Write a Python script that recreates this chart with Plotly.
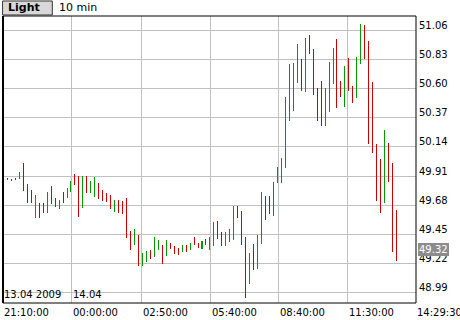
import plotly.graph_objects as go

# ---- data ----
highs = [49.947, 49.892, 49.886, 49.892, 49.939, 50.010, 49.847, 49.797, 49.758, 49.695,
         49.695, 49.781, 49.829, 49.734, 49.718, 49.781, 49.813, 49.868, 49.923, 49.908,
         49.908, 49.908, 49.868, 49.900, 49.852, 49.797, 49.773, 49.758, 49.718, 49.718,
         49.710, 49.734, 49.474, 49.489, 49.442, 49.300, 49.316, 49.324, 49.426, 49.402,
         49.363, 49.402, 49.379, 49.355, 49.339, 49.363, 49.363, 49.379, 49.426, 49.379,
         49.395, 49.410, 49.426, 49.545, 49.552, 49.466, 49.466, 49.489, 49.671, 49.671,
         49.631, 49.426, 49.300, 49.371, 49.442, 49.781, 49.750, 49.750, 49.860, 49.979,
         50.050, 50.531, 50.792, 50.800, 50.957, 50.831, 50.997, 51.028, 50.910, 50.602,
         50.665, 50.602, 50.815, 50.918, 50.989, 50.665, 50.776, 50.839, 50.618, 50.847,
         51.115, 51.100, 50.981, 50.657, 50.160, 50.042, 50.271, 50.168, 50.010, 49.639]
lows = [49.884, 49.876, 49.876, 49.876, 49.884, 49.789, 49.695, 49.695, 49.576, 49.576,
        49.616, 49.616, 49.687, 49.663, 49.647, 49.695, 49.734, 49.781, 49.839, 49.584,
        49.655, 49.773, 49.773, 49.742, 49.726, 49.710, 49.702, 49.647, 49.624, 49.616,
        49.608, 49.418, 49.324, 49.363, 49.197, 49.197, 49.229, 49.253, 49.268, 49.324,
        49.213, 49.276, 49.331, 49.292, 49.284, 49.308, 49.308, 49.324, 49.363, 49.339,
        49.331, 49.363, 49.324, 49.355, 49.410, 49.355, 49.355, 49.387, 49.402, 49.576,
        49.363, 48.945, 49.055, 49.166, 49.174, 49.371, 49.560, 49.608, 49.592, 49.852,
        49.852, 49.971, 50.342, 50.421, 50.642, 50.579, 50.571, 50.878, 50.547, 50.342,
        50.302, 50.302, 50.413, 50.634, 50.444, 50.531, 50.452, 50.579, 50.484, 50.523,
        50.792, 50.831, 50.160, 50.089, 49.710, 49.616, 49.695, 49.860, 49.308, 49.237]
# u = rising bar (green), d = falling bar (red)
direction = list("ddddudddud" "dudduduudd" "uduuddddud" "ddduduuduu" "dudddududd"
                 "uduudduuud" "dduduudduu" "uuuuududdd" "duuudduddu" "uddddduddd")
last_close = 49.32
y_ticks = [51.06, 50.83, 50.60, 50.37, 50.14, 49.91, 49.68, 49.45, 49.22, 48.99]
x_labels = ["21:10:00", "00:00:00", "02:50:00", "05:40:00", "08:40:00", "11:30:00", "14:29:30"]
date_labels = ["13.04 2009", "14.04"]
assert len(highs) == len(lows) == len(direction) == 100

# ---- layout constants ----
X0, X1 = -0.126, 103.904
Y0, Y1 = 48.907, 51.1746
x_label_pos = [X0, 17.2, 34.76, 52.14, 69.27, 86.65, X1]
date_label_pos = [X0, 17.2]
UP, DOWN = "#009900", "#cc0000"
FONT = "DejaVu Sans"
BAR_W = 0.02 / 3.97   # hairline; plotly expands it to one full pixel

idx = list(range(len(highs)))
fig = go.Figure(go.Bar(
    x=idx, base=lows, y=[h - l for h, l in zip(highs, lows)], width=BAR_W,
    marker=dict(color=[UP if d == "u" else DOWN for d in direction], line=dict(width=0)),
    hoverinfo="skip", showlegend=False))

fig.update_xaxes(range=[X0, X1], tickvals=x_label_pos, showticklabels=False, ticks="",
                 showgrid=True, gridcolor="#c0c0c0", gridwidth=1, zeroline=False, showline=False)
fig.update_yaxes(range=[Y0, Y1], side="right", tickvals=y_ticks,
                 ticktext=[f"{v:.2f}" for v in y_ticks], ticks="",
                 showgrid=True, gridcolor="#c0c0c0", gridwidth=1, zeroline=False, showline=False,
                 ticklabelstandoff=2, ticklabelshift=-5,
                 tickfont=dict(family=FONT, size=10, color="black"))

shapes = [
    dict(type="rect", xref="paper", yref="paper", x0=0, x1=1, y0=0, y1=1,
         line=dict(color="black", width=1)),
    dict(type="line", xref="paper", yref="paper", x0=0, x1=0, y0=0, y1=1,
         line=dict(color="black", width=2)),
    dict(type="rect", xref="paper", yref="paper", x0=-0.001, x1=0.1194, y0=1.0035, y1=1.0523,
         fillcolor="#d8d8d8", line=dict(color="#333333", width=1)),
]

ann = []
for lab, pos in zip(x_labels, x_label_pos):
    ann.append(dict(text=lab, x=pos, xref="x", y=-0.0331, yref="paper", xanchor="left",
                    yanchor="middle", showarrow=False, xshift=-1,
                    font=dict(family=FONT, size=10, color="black")))
for lab, pos in zip(date_labels, date_label_pos):
    ann.append(dict(text=lab, x=pos, xref="x", y=0.0296, yref="paper", xanchor="left",
                    yanchor="middle", showarrow=False, xshift=-1,
                    font=dict(family=FONT, size=10, color="black")))
ann.append(dict(text=f"{last_close:.2f}", x=1, xref="paper", y=last_close, yref="y",
                xanchor="left", yanchor="middle", showarrow=False, xshift=2, yshift=1,
                bgcolor="#8c8c8c", borderpad=1, borderwidth=0,
                font=dict(family=FONT, size=10, color="white")))
ann.append(dict(text="<b>Light</b>", x=0.0073, xref="paper", y=1.0279, yref="paper",
                xanchor="left", yanchor="middle", showarrow=False,
                font=dict(family=FONT, size=11, color="black")))
ann.append(dict(text="10 min", x=0.1308, xref="paper", y=1.0279, yref="paper",
                xanchor="left", yanchor="middle", showarrow=False,
                font=dict(family=FONT, size=11, color="black")))

fig.update_layout(width=460, height=320, margin=dict(l=3, r=44, t=16, b=17),
                  paper_bgcolor="white", plot_bgcolor="white", bargap=0,
                  shapes=shapes, annotations=ann, showlegend=False)
fig.write_html("out.html")
